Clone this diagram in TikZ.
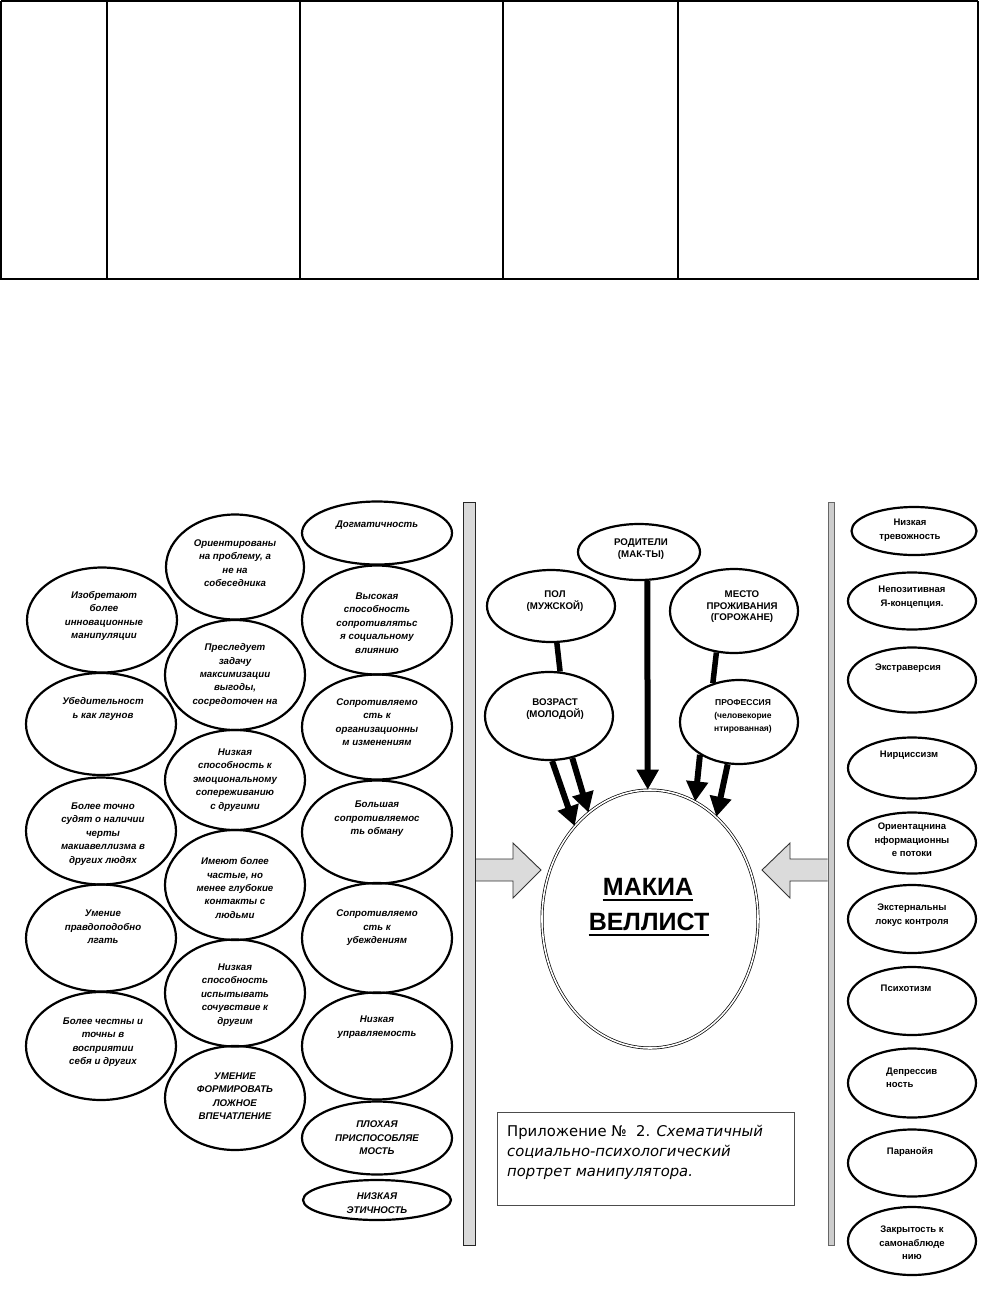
\documentclass[tikz,border=0pt]{standalone}
\usepackage{fontspec}
\setmainfont{Liberation Sans}
\newfontfamily\capfont{DejaVu Sans}
\usetikzlibrary{shapes.geometric,arrows.meta}
\tikzset{
  ov/.style={ellipse,draw,line width=2.2pt,inner sep=0pt},
  lt/.style={align=center,inner sep=0pt,font=\bfseries\itshape\fontsize{9.7}{13.4}\selectfont},
  ct/.style={align=center,inner sep=0pt,font=\bfseries\fontsize{9.7}{12}\selectfont},
  rt/.style={align=center,inner sep=0pt,font=\bfseries\fontsize{9.5}{13.5}\selectfont},
  thk/.style={line width=5.5pt},
  arr/.style={line width=6pt,-{Triangle[length=20pt,width=21pt]}},
  bigarr/.style={draw=black!80,line width=0.9pt,fill=gray!28},
  tline/.style={line width=1.1pt},
}
\begin{document}
\begin{tikzpicture}[x=1pt,y=-1pt]
\useasboundingbox (0,0) rectangle (1008,1299);
% ---- table at top ----
\draw[tline] (1,1) -- (978,1);
\foreach \xx in {1,107,300,503,678,978}{\draw[tline] (\xx,1) -- (\xx,279);}
\draw[line width=2pt] (0,279) -- (979,279);

% ---- column 1 ----
\node[ov,minimum width=150pt,minimum height=105pt] (a1) at (102,620) {};
\node[lt] (a1t) at (104,616) {Изобретают\\более\\инновационные\\манипуляции};
\node[ov,minimum width=150pt,minimum height=102pt] (a2) at (101,724) {};
\node[lt] (a2t) at (103,709) {Убедительност\\ь как лгунов};
\node[ov,minimum width=150pt,minimum height=107pt] (a3) at (101,831) {};
\node[lt] (a3t) at (103,834) {Более точно\\судят о наличии\\черты\\макиавеллизма в\\других людях};
\node[ov,minimum width=150pt,minimum height=107pt] (a4) at (101,938) {};
\node[lt] (a4t) at (103,927) {Умение\\правдоподобно\\лгать};
\node[ov,minimum width=150pt,minimum height=108pt] (a5) at (101,1046) {};
\node[lt] (a5t) at (103,1042) {Более честны и\\точны в\\восприятии\\себя и других};

% ---- column 2 ----
\node[ov,minimum width=138pt,minimum height=105pt] (b1) at (235,567) {};
\node[lt] (b1t) at (235,563) {Ориентированы\\на проблему, а\\не на\\собеседника};
\node[ov,minimum width=140pt,minimum height=110pt] (b2) at (235,675) {};
\node[lt] (b2t) at (235,675) {Преследует\\задачу\\максимизации\\выгоды,\\сосредоточен на};
\node[ov,minimum width=140pt,minimum height=100pt] (b3) at (235,780) {};
\node[lt] (b3t) at (235,780) {Низкая\\способность к\\эмоциональному\\сопереживанию\\с другими};
\node[ov,minimum width=140pt,minimum height=110pt] (b4) at (235,885) {};
\node[lt] (b4t) at (235,888) {Имеют более\\частые, но\\менее глубокие\\контакты с\\людьми};
\node[ov,minimum width=140pt,minimum height=107pt] (b5) at (235,993) {};
\node[lt] (b5t) at (235,995) {Низкая\\способность\\испытывать\\сочувствие к\\другим};
\node[ov,minimum width=140pt,minimum height=104pt] (b6) at (235,1098) {};
\node[lt] (b6t) at (235,1096) {УМЕНИЕ\\ФОРМИРОВАТЬ\\ЛОЖНОЕ\\ВПЕЧАТЛЕНИЕ};

% ---- column 3 ----
\node[ov,minimum width=150pt,minimum height=63pt] (c1) at (377,533) {};
\node[lt] (c1t) at (377,525) {Догматичность};
\node[ov,minimum width=150pt,minimum height=109pt] (c2) at (377,620) {};
\node[lt] (c2t) at (377,623) {Высокая\\способность\\сопротивлятьс\\я социальному\\влиянию};
\node[ov,minimum width=150pt,minimum height=105pt] (c3) at (377,727) {};
\node[lt] (c3t) at (377,722) {Сопротивляемо\\сть к\\организационны\\м изменениям};
\node[ov,minimum width=150pt,minimum height=103pt] (c4) at (377,832) {};
\node[lt] (c4t) at (377,819) {Большая\\сопротивляемос\\ть обману};
\node[ov,minimum width=150pt,minimum height=110pt] (c5) at (377,938) {};
\node[lt] (c5t) at (377,928) {Сопротивляемо\\сть к\\убеждениям};
\node[ov,minimum width=150pt,minimum height=107pt] (c6) at (377,1046) {};
\node[lt] (c6t) at (377,1027) {Низкая\\управляемость};
\node[ov,minimum width=150pt,minimum height=73pt] (c7) at (377,1138) {};
\node[lt] (c7t) at (377,1138) {ПЛОХАЯ\\ПРИСПОСОБЛЯЕ\\МОСТЬ};
\node[ov,minimum width=148pt,minimum height=40pt] (c8) at (377,1200) {};
\node[lt] (c8t) at (377,1203) {НИЗКАЯ\\ЭТИЧНОСТЬ};

% ---- bars ----
\node[draw=black!85,line width=1pt,fill=gray!30,minimum width=12pt,minimum height=743pt,inner sep=0pt] (lbar) at (469.5,873.5) {};
\node[draw=black!60,line width=0.8pt,fill=gray!40,minimum width=6pt,minimum height=743pt,inner sep=0pt] (rbar) at (831,873.5) {};

% ---- centre ----
\node[ellipse,draw,double,double distance=1.6pt,line width=0.7pt,minimum width=216pt,minimum height=258pt,inner sep=0pt] (mc) at (650,919) {};
\node[anchor=base,inner sep=0pt,font=\bfseries\fontsize{25}{30}\selectfont] (m1) at (648,895) {МАКИА};
\node[anchor=base,inner sep=0pt,font=\bfseries\fontsize{25}{30}\selectfont] (m2) at (649,930) {ВЕЛЛИСТ};
\draw[line width=2.3pt] ([yshift=-5pt]m1.base west) -- ([yshift=-5pt]m1.base east);
\draw[line width=2.3pt] ([yshift=-5pt]m2.base west) -- ([yshift=-5pt]m2.base east);

\node[ov,minimum width=122pt,minimum height=56pt] (rod) at (639,552) {};
\node[ct] (rodt) at (641,549) {РОДИТЕЛИ\\(МАК-ТЫ)};
\node[ov,minimum width=128pt,minimum height=72pt] (pol) at (551,606) {};
\node[ct] (polt) at (555,601) {ПОЛ\\(МУЖСКОЙ)};
\node[ov,minimum width=128pt,minimum height=84pt] (mes) at (734,611) {};
\node[ct,font=\bfseries\fontsize{9.7}{11.5}\selectfont] (mest) at (742,607) {МЕСТО\\ПРОЖИВАНИЯ\\(ГОРОЖАНЕ)};
\node[ov,minimum width=128pt,minimum height=88pt] (voz) at (549,716) {};
\node[ct] (vozt) at (555,709) {ВОЗРАСТ\\(МОЛОДОЙ)};
\node[ov,minimum width=118pt,minimum height=84pt] (prof) at (739,722) {};
\node[ct,font=\bfseries\fontsize{8.5}{13}\selectfont] (proft) at (743,716) {ПРОФЕССИЯ\\(человекорие\\нтированная)};

\draw[thk] (pol.279) -- (voz.76);
\draw[thk] (mes.247) -- (prof.124);
\draw[arr] (rod.286) -- (mc.91.5);
\draw[arr] (voz.274) -- (mc.129.3);
\draw[arr] (voz.299) -- (mc.120.8);
\draw[arr] (prof.220) -- (mc.69);
\draw[arr] (prof.255) -- (mc.57.2);

% ---- big hollow arrows ----
\draw[bigarr] (lbar.east |- 0,859) -- (513,859) -- (513,843) -- (541,870) -- (513,898) -- (513,881) -- (lbar.east |- 0,881);
\draw[bigarr] (rbar.west |- 0,859) -- (790,859) -- (790,843) -- (762,870) -- (790,898) -- (790,881) -- (rbar.west |- 0,881);

% ---- caption ----
\node[draw=black!70,line width=0.9pt,minimum width=297pt,minimum height=93pt,inner sep=0pt] (cap) at (645.5,1158.5) {};
\node[anchor=north west,align=left,inner sep=0pt,font=\capfont\fontsize{14.8}{20}\selectfont] (capt) at (507,1125) {Приложение №\ \ 2. \textit{Схематичный}\\\textit{социально-психологический}\\\textit{портрет манипулятора.}};

% ---- right column ----
\node[ov,minimum width=125pt,minimum height=48pt] (r1) at (914,531) {};
\node[rt] (r1t) at (910,530) {Низкая\\тревожность};
\node[ov,minimum width=128pt,minimum height=57pt] (r2) at (912,601) {};
\node[rt] (r2t) at (912,597) {Непозитивная\\Я-концепция.};
\node[ov,minimum width=128pt,minimum height=65pt] (r3) at (912,680) {};
\node[rt] (r3t) at (908,668) {Экстраверсия};
\node[ov,minimum width=128pt,minimum height=61pt] (r4) at (912,768) {};
\node[rt] (r4t) at (909,755) {Нирциссизм};
\node[ov,minimum width=128pt,minimum height=61pt] (r5) at (912,843) {};
\node[rt] (r5t) at (912,840) {Ориентацнина\\нформационны\\е потоки};
\node[ov,minimum width=128pt,minimum height=68pt] (r6) at (912,919) {};
\node[rt] (r6t) at (912,915) {Экстернальны\\локус контроля};
\node[ov,minimum width=128pt,minimum height=68pt] (r7) at (912,1001) {};
\node[rt] (r7t) at (906,988) {Психотизм};
\node[ov,minimum width=128pt,minimum height=69pt] (r8) at (912,1083) {};
\node[rt,align=left,anchor=west] (r8t) at (886,1078) {Депрессив\\ность};
\node[ov,minimum width=128pt,minimum height=67pt] (r9) at (912,1163) {};
\node[rt] (r9t) at (910,1152) {Паранойя};
\node[ov,minimum width=128pt,minimum height=68pt] (r10) at (912,1241) {};
\node[rt] (r10t) at (912,1243) {Закрытость к\\самонаблюде\\нию};
\end{tikzpicture}
\end{document}
